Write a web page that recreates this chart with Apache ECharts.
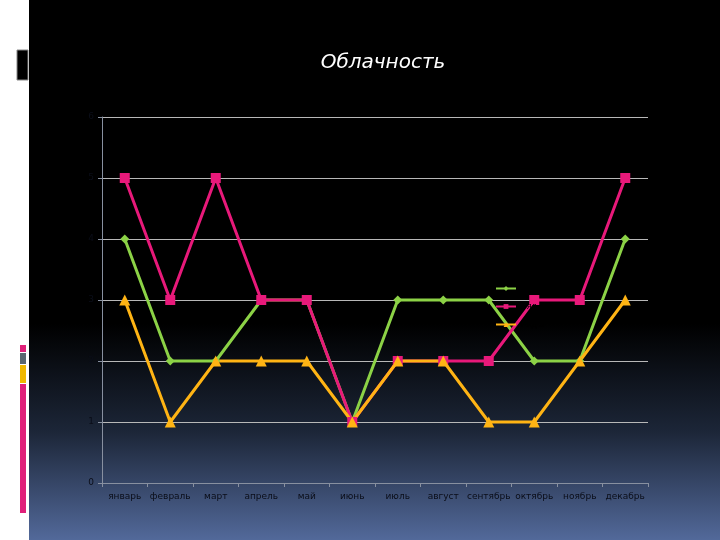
<!DOCTYPE html>
<html><head><meta charset="utf-8">
<script src="https://cdn.jsdelivr.net/npm/echarts@6/dist/echarts.min.js"></script>
<style>html,body{margin:0;padding:0;background:#000}#c{width:720px;height:540px}</style>
</head><body><div id="c"></div>
<script>
const categories = ['январь','февраль','март','апрель','май','июнь','июль','август','сентябрь','октябрь','ноябрь','декабрь'];
const seriesNames = ['Ряд 1','Ряд 2','Ряд 3'];
const green = [4,2,2,3,3,1,3,3,3,2,2,4];
const pink = [5,3,5,3,3,1,2,2,2,3,3,5];
const yellow = [3,1,2,2,2,1,2,2,1,1,2,3];
const yTicks = [0,1,2,3,4,5,6];

const chart = echarts.init(document.getElementById('c'), null, {renderer:'canvas'});
const mk = (name, data, color, symbol, size) => ({
  name, type:'line', data, symbol, symbolSize:size,
  lineStyle:{color, width:3}, itemStyle:{color},
  emphasis:{disabled:true}
});
chart.setOption({
  animation:false,
  backgroundColor:'transparent',
  graphic:[
    {type:'rect', z:-10, shape:{x:0,y:0,width:720,height:540},
     style:{fill:new echarts.graphic.LinearGradient(0,0,0,1,[{offset:0,color:'#000'},{offset:0.6,color:'#000'},{offset:0.8,color:'#1c2638'},{offset:1,color:'#52699a'}])}},
    {type:'rect', z:-9, shape:{x:0,y:0,width:29,height:540}, style:{fill:'#ffffff'}},
    {type:'rect', z:-8, shape:{x:17,y:50,width:11,height:30}, style:{fill:'#000', stroke:'#888', lineWidth:1}},
    {type:'rect', z:-8, shape:{x:20,y:345,width:6,height:7}, style:{fill:'#e0207a'}},
    {type:'rect', z:-8, shape:{x:20,y:353,width:6,height:11}, style:{fill:'#5a6670'}},
    {type:'rect', z:-8, shape:{x:20,y:365,width:6,height:18}, style:{fill:'#f0b800'}},
    {type:'rect', z:-8, shape:{x:20,y:384,width:6,height:129}, style:{fill:'#e0207a'}}
  ],
  title:{text:'Облачность', left:378, top:48, textAlign:'center',
    textStyle:{color:'#fff', fontSize:20, fontStyle:'italic', fontWeight:'normal', fontFamily:'DejaVu Sans'}},
  legend:{orient:'vertical', left:490, top:279, itemGap:9, itemWidth:20, itemHeight:6,
    data:seriesNames, textStyle:{color:'#000', fontSize:9}},
  grid:{left:102, right:72, top:117, bottom:57},
  xAxis:{type:'category', data:categories, boundaryGap:true,
    axisLine:{lineStyle:{color:'#8890a0'}},
    axisTick:{show:true, length:4, lineStyle:{color:'#8890a0'}},
    axisLabel:{color:'#0a0d18', fontSize:9, margin:9, interval:0, fontFamily:'DejaVu Sans'}},
  yAxis:{type:'value', min:0, max:6, interval:1,
    axisLine:{show:true, lineStyle:{color:'#8890a0'}},
    axisTick:{show:true, length:4, lineStyle:{color:'#8890a0'}},
    splitLine:{lineStyle:{color:'#b8b8b8', width:1}},
    axisLabel:{color:'#0a0d18', fontSize:9, margin:8, fontFamily:'DejaVu Sans',
      formatter:v=>yTicks.includes(v)?String(v):''}},
  series:[
    mk(seriesNames[0], green, '#8cd246', 'diamond', 9),
    mk(seriesNames[1], pink, '#e8197a', 'rect', 10),
    mk(seriesNames[2], yellow, '#ffb414', 'triangle', 11)
  ]
});
</script></body></html>
